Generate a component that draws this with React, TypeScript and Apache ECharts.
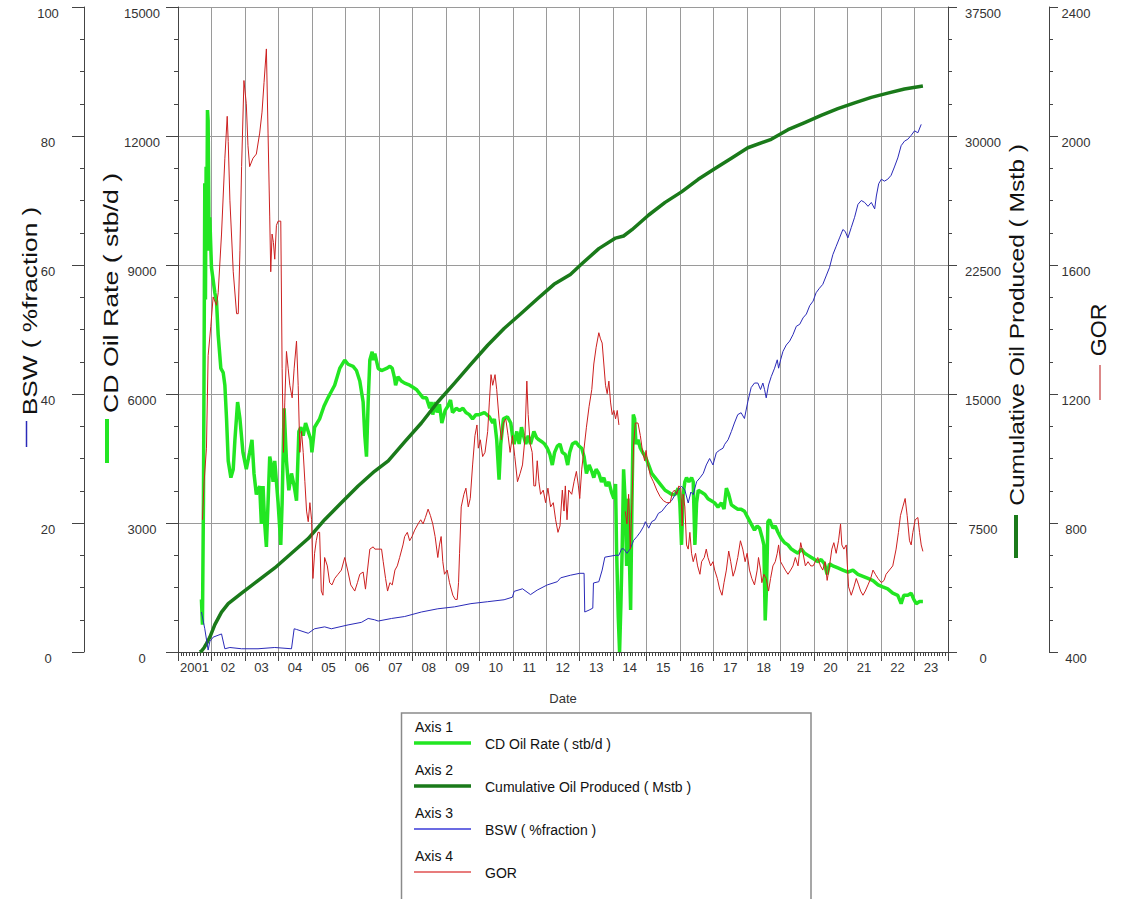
import React, { useEffect, useRef } from 'react';
import * as echarts from 'echarts';

// x values are fractional calendar years
const yearLabelFirst = '2001';

const rateData: [number, number][] = [
  [2001.70, 1221], [2001.73, 635], [2001.76, 3468], [2001.78, 6888], [2001.80, 10900], [2001.82, 8200], [2001.84, 11284], [2001.86, 9800], [2001.88, 12603], [2001.90, 12359], [2001.93, 9330], [2001.95, 10112],
  [2002.00, 8940], [2002.10, 8353], [2002.15, 8158], [2002.20, 7376], [2002.28, 6595], [2002.35, 6497], [2002.40, 6204], [2002.45, 5422], [2002.50, 4445], [2002.58, 4055], [2002.65, 4250], [2002.70, 4934], [2002.78, 5813], [2002.85, 5422], [2002.94, 4641],
  [2003.04, 4250], [2003.14, 4641], [2003.21, 4934], [2003.27, 4152], [2003.34, 3664], [2003.44, 3859], [2003.49, 2980], [2003.54, 3859], [2003.59, 2980], [2003.64, 2442], [2003.69, 3468], [2003.74, 4543], [2003.79, 4348], [2003.84, 3957], [2003.89, 4445], [2003.99, 3468],
  [2004.07, 2491], [2004.11, 3468], [2004.17, 5667], [2004.24, 4445], [2004.31, 3761], [2004.39, 4152], [2004.47, 3859], [2004.54, 3517], [2004.61, 5129], [2004.67, 5227], [2004.74, 5032], [2004.81, 5325], [2004.89, 5129], [2004.97, 4934],
  [2005.00, 4641], [2005.08, 5227], [2005.23, 5422], [2005.36, 5715], [2005.48, 5911], [2005.58, 6057], [2005.68, 6204], [2005.83, 6595], [2005.98, 6790],
  [2006.08, 6692], [2006.23, 6644], [2006.33, 6546], [2006.43, 6302], [2006.53, 5813], [2006.58, 5032], [2006.63, 4543], [2006.68, 5813], [2006.73, 6790], [2006.80, 6985], [2006.83, 6790], [2006.88, 6937], [2006.98, 6595],
  [2007.08, 6546], [2007.23, 6595], [2007.33, 6644], [2007.40, 6595], [2007.46, 6399], [2007.50, 6204], [2007.57, 6399], [2007.67, 6302], [2007.77, 6253], [2007.92, 6204],
  [2008.02, 6155], [2008.12, 6106], [2008.22, 6009], [2008.32, 5911], [2008.42, 5911], [2008.52, 5667], [2008.56, 5813], [2008.61, 5520], [2008.68, 5813], [2008.74, 5569], [2008.81, 5764], [2008.88, 5325], [2008.98, 5618],
  [2009.06, 5715], [2009.14, 5862], [2009.20, 5569], [2009.31, 5667], [2009.41, 5618], [2009.51, 5667], [2009.60, 5569], [2009.70, 5520], [2009.80, 5422], [2009.90, 5520],
  [2010.00, 5520], [2010.15, 5569], [2010.30, 5471], [2010.40, 5325], [2010.45, 5422], [2010.52, 4934], [2010.59, 4006], [2010.64, 4836], [2010.72, 5422], [2010.84, 5471], [2010.94, 5325], [2010.99, 5032],
  [2011.04, 4836], [2011.12, 5129], [2011.19, 4836], [2011.26, 5227], [2011.32, 5032], [2011.39, 4836], [2011.46, 5032], [2011.53, 4836], [2011.63, 5129], [2011.71, 4983], [2011.78, 4934], [2011.88, 4885], [2011.95, 4836],
  [2012.03, 4738], [2012.11, 4592], [2012.18, 4348], [2012.25, 4641], [2012.33, 4787], [2012.41, 4836], [2012.48, 4641], [2012.57, 4592], [2012.64, 4348], [2012.70, 4641], [2012.78, 4836], [2012.88, 4885], [2012.98, 4787],
  [2013.06, 4738], [2013.13, 4543], [2013.20, 4152], [2013.28, 4348], [2013.36, 4201], [2013.42, 4055], [2013.49, 4250], [2013.57, 4152], [2013.65, 3957], [2013.72, 4055], [2013.79, 3859], [2013.87, 3957], [2013.95, 3713],
  [2014.02, 3566], [2014.07, 3908], [2014.10, 2394], [2014.15, 830], [2014.19, 0], [2014.23, 1124], [2014.27, 2491], [2014.31, 4250], [2014.36, 3468], [2014.40, 2003], [2014.44, 3566], [2014.48, 2296], [2014.52, 977], [2014.56, 3468], [2014.60, 5520], [2014.64, 5422], [2014.68, 4836], [2014.74, 4934], [2014.81, 4738], [2014.88, 4641], [2014.96, 4543],
  [2015.06, 4348], [2015.15, 4152], [2015.25, 4055], [2015.35, 3957], [2015.45, 3859], [2015.55, 3761], [2015.65, 3713], [2015.75, 3664], [2015.85, 3664], [2015.94, 3810], [2015.99, 3468],
  [2016.04, 2491], [2016.09, 3664], [2016.14, 3957], [2016.19, 4055], [2016.26, 3957], [2016.34, 4055], [2016.39, 3957], [2016.44, 2491], [2016.49, 3468], [2016.54, 3761], [2016.64, 3713], [2016.74, 3664], [2016.83, 3566], [2016.93, 3517],
  [2017.03, 3468], [2017.13, 3371], [2017.23, 3468], [2017.31, 3322], [2017.38, 3810], [2017.45, 3664], [2017.53, 3420], [2017.62, 3371], [2017.72, 3322], [2017.82, 3322], [2017.92, 3273],
  [2018.02, 3126], [2018.12, 2980], [2018.22, 2833], [2018.30, 2931], [2018.37, 2882], [2018.44, 2687], [2018.50, 2491], [2018.54, 733], [2018.58, 1514], [2018.62, 3029], [2018.67, 3078], [2018.72, 2980], [2018.77, 2882], [2018.84, 2931], [2018.92, 2784],
  [2019.02, 2638], [2019.12, 2540], [2019.22, 2491], [2019.32, 2394], [2019.42, 2345], [2019.52, 2296], [2019.62, 2394], [2019.72, 2296], [2019.82, 2247], [2019.92, 2198],
  [2020.02, 2149], [2020.11, 2101], [2020.21, 2149], [2020.31, 2052], [2020.39, 1807], [2020.46, 2052], [2020.56, 2003], [2020.71, 1954], [2020.86, 1905],
  [2021.01, 1856], [2021.16, 1905], [2021.31, 1807], [2021.46, 1759], [2021.61, 1710], [2021.76, 1661], [2021.91, 1563],
  [2022.05, 1514], [2022.20, 1466], [2022.35, 1368], [2022.50, 1319], [2022.60, 1124], [2022.68, 1319], [2022.80, 1319], [2022.90, 1368], [2022.98, 1221],
  [2023.05, 1124], [2023.15, 1172], [2023.25, 1172],
];

const cumData: [number, number][] = [
  [2001.65, 0], [2001.70, 49], [2001.78, 250], [2001.85, 489], [2001.95, 855], [2002.10, 1588], [2002.30, 2321], [2002.50, 2809], [2002.90, 3420],
  [2003.39, 4153], [2003.89, 4886], [2004.39, 5741], [2004.89, 6596], [2005.38, 7695], [2005.88, 8673], [2006.38, 9650], [2006.87, 10505],
  [2007.28, 11116], [2007.77, 12215], [2008.27, 13314], [2008.76, 14536], [2009.26, 15635], [2009.75, 16735], [2010.25, 17834], [2010.74, 18811],
  [2011.24, 19666], [2011.73, 20521], [2012.23, 21376], [2012.72, 21950], [2013.08, 22598], [2013.57, 23453], [2014.07, 24064], [2014.31, 24186],
  [2014.56, 24552], [2015.06, 25407], [2015.55, 26140], [2016.04, 26751], [2016.54, 27484], [2017.03, 28095], [2017.53, 28705], [2018.02, 29316],
  [2018.72, 29805], [2019.22, 30366], [2019.72, 30782], [2020.21, 31197], [2020.71, 31588], [2021.21, 31930], [2021.71, 32248], [2022.20, 32492],
  [2022.70, 32736], [2023.25, 32907],
];

const bswData: [number, number][] = [
  [2001.70, 6.2], [2001.80, 3.6], [2001.90, 0.3], [2001.95, 1.6], [2002.05, 2.3], [2002.30, 2.8], [2002.40, 0.5], [2002.55, 0.7], [2002.90, 0.5],
  [2003.39, 0.5], [2003.89, 0.7], [2004.39, 0.5], [2004.47, 3.6], [2004.54, 3.5], [2004.89, 2.9], [2005.08, 3.6], [2005.38, 3.9], [2005.58, 3.6],
  [2006.08, 4.2], [2006.48, 4.6], [2006.68, 5.2], [2006.87, 5.0], [2006.98, 4.8], [2007.38, 5.2], [2007.77, 5.5], [2008.27, 6.2], [2008.76, 6.7],
  [2009.26, 7.0], [2009.75, 7.5], [2010.25, 7.8], [2010.74, 8.1], [2010.99, 8.5], [2011.04, 9.4], [2011.29, 9.8], [2011.53, 8.9], [2011.73, 9.6],
  [2012.03, 10.4], [2012.33, 10.9], [2012.43, 11.5], [2012.72, 11.9], [2013.00, 12.2], [2013.13, 12.2], [2013.15, 6.2], [2013.28, 6.5], [2013.39, 6.8],
  [2013.41, 10.7], [2013.57, 10.9], [2013.67, 12.7], [2013.75, 14.7], [2014.07, 15.0], [2014.17, 15.0], [2014.25, 16.0], [2014.31, 16.0], [2014.41, 15.3],
  [2014.51, 16.0], [2014.61, 17.3], [2014.71, 17.9], [2014.81, 18.6], [2014.91, 19.5], [2014.96, 20.2], [2015.06, 19.2], [2015.15, 20.2], [2015.25, 20.5],
  [2015.35, 21.5], [2015.45, 21.8], [2015.60, 22.8], [2015.75, 23.5], [2015.85, 24.4], [2015.94, 25.1], [2016.04, 25.7], [2016.14, 25.1], [2016.24, 23.1],
  [2016.32, 24.8], [2016.39, 24.4], [2016.49, 26.4], [2016.59, 27.0], [2016.69, 27.7], [2016.78, 29.0], [2016.88, 30.0], [2016.98, 29.0], [2017.08, 30.9],
  [2017.18, 31.3], [2017.28, 31.6], [2017.33, 32.2], [2017.43, 32.9], [2017.53, 34.2], [2017.62, 35.5], [2017.72, 36.8], [2017.82, 37.1], [2017.92, 36.2],
  [2018.02, 38.8], [2018.12, 41.0], [2018.22, 41.7], [2018.32, 41.7], [2018.40, 40.7], [2018.47, 41.7], [2018.52, 40.7], [2018.57, 39.4], [2018.64, 41.4],
  [2018.72, 42.7], [2018.82, 44.0], [2018.90, 45.3], [2018.94, 44.0], [2019.00, 45.3], [2019.07, 46.6], [2019.17, 47.6], [2019.27, 48.2], [2019.37, 49.2],
  [2019.47, 50.5], [2019.57, 50.8], [2019.67, 51.8], [2019.77, 52.4], [2019.87, 53.7], [2019.97, 54.4], [2020.06, 55.7], [2020.16, 56.4], [2020.26, 57.0],
  [2020.36, 58.3], [2020.46, 59.6], [2020.56, 61.6], [2020.66, 62.9], [2020.76, 64.2], [2020.86, 65.5], [2020.93, 65.2], [2021.01, 64.2], [2021.11, 65.8],
  [2021.21, 67.4], [2021.31, 69.4], [2021.41, 70.0], [2021.51, 69.7], [2021.61, 69.1], [2021.71, 69.7], [2021.81, 68.7], [2021.86, 70.7], [2021.93, 72.6],
  [2022.01, 73.3], [2022.10, 73.0], [2022.20, 73.3], [2022.30, 73.9], [2022.40, 75.2], [2022.50, 76.6], [2022.60, 78.5], [2022.70, 79.2], [2022.80, 79.5],
  [2022.90, 80.1], [2023.00, 80.8], [2023.10, 80.5], [2023.20, 81.8],
];

const gorData: [number, number | null][] = [
  [2001.73, 810], [2001.78, 928], [2001.85, 1032], [2001.90, 1319], [2001.98, 1410], [2002.05, 1501], [2002.15, 1475], [2002.20, 1514], [2002.30, 1696],
  [2002.40, 1931], [2002.47, 2061], [2002.50, 1983], [2002.55, 1801], [2002.65, 1579], [2002.75, 1449], [2002.80, 1449], [2002.85, 1644], [2002.90, 1905],
  [2002.97, 2172], [2003.04, 2100], [2003.09, 1970], [2003.14, 1905], [2003.24, 1931], [2003.34, 1944], [2003.44, 2009], [2003.51, 2074], [2003.57, 2166],
  [2003.64, 2270], [2003.69, 2009], [2003.74, 1749], [2003.77, 1579], [2003.81, 1696], [2003.85, 1670], [2003.89, 1618], [2003.94, 1723], [2003.99, 1736],
  [2004.07, 1736], [2004.11, 1280], [2004.15, 1019], [2004.19, 1175], [2004.24, 1332], [2004.29, 1280], [2004.34, 1227], [2004.41, 1188], [2004.47, 1280],
  [2004.54, 1364], [2004.59, 1227], [2004.64, 1019], [2004.69, 1084], [2004.74, 1019], [2004.79, 928], [2004.84, 837], [2004.89, 804], [2004.94, 863],
  [2004.99, 810], [2005.03, 628], [2005.08, 706], [2005.13, 745], [2005.18, 771], [2005.23, 771], [2005.28, 589], [2005.33, 576], [2005.38, 693],
  [2005.46, 667], [2005.53, 615], [2005.60, 608], [2005.68, 628], [2005.78, 641], [2005.88, 654], [2005.98, 693], [2006.08, 648], [2006.16, 608],
  [2006.28, 589], [2006.36, 615], [2006.43, 641], [2006.53, 648], [2006.60, 595], [2006.66, 654], [2006.73, 719], [2006.83, 726], [2006.88, 719],
  [2007.08, 719], [2007.13, 680], [2007.20, 628], [2007.26, 589], [2007.33, 615], [2007.40, 608], [2007.48, 654], [2007.55, 667], [2007.62, 693],
  [2007.72, 732], [2007.77, 758], [2007.85, 771], [2007.92, 745], [2007.99, 758], [2008.07, 778], [2008.17, 797], [2008.25, 810], [2008.32, 797],
  [2008.39, 817], [2008.47, 843], [2008.54, 823], [2008.61, 797], [2008.68, 758], [2008.76, 693], [2008.81, 732], [2008.86, 758], [2008.91, 680],
  [2008.96, 641], [2009.04, 654], [2009.11, 615], [2009.21, 576], [2009.28, 563], [2009.34, 563], [2009.38, 615], [2009.41, 706], [2009.46, 850],
  [2009.54, 889], [2009.60, 908], [2009.67, 850], [2009.73, 876], [2009.80, 980], [2009.87, 1071], [2009.93, 1104], [2009.97, 1032], [2010.03, 1058],
  [2010.10, 1006], [2010.17, 1019], [2010.25, 1084], [2010.30, 1175], [2010.35, 1260], [2010.40, 1227], [2010.47, 1260], [2010.52, 1214], [2010.59, 1123],
  [2010.66, 1058], [2010.72, 1110], [2010.79, 1123], [2010.86, 1071], [2010.92, 1019], [2010.99, 1071], [2011.06, 1006], [2011.14, 928], [2011.22, 954],
  [2011.29, 980], [2011.36, 1058], [2011.42, 1240], [2011.46, 1136], [2011.52, 1045], [2011.58, 1019], [2011.63, 915], [2011.68, 915], [2011.73, 993],
  [2011.78, 928], [2011.83, 889], [2011.91, 902], [2011.98, 863], [2012.05, 908], [2012.13, 850], [2012.21, 863], [2012.28, 810], [2012.35, 771],
  [2012.41, 791], [2012.48, 902], [2012.53, 837], [2012.57, 915], [2012.62, 810], [2012.67, 902], [2012.76, 889], [2012.83, 928], [2012.90, 960],
  [2012.96, 915], [2013.00, 876], [2013.06, 967], [2013.13, 1032], [2013.20, 1097], [2013.28, 1162], [2013.36, 1214], [2013.42, 1293], [2013.49, 1345],
  [2013.57, 1390], [2013.62, 1371], [2013.67, 1358], [2013.72, 1293], [2013.77, 1227], [2013.82, 1201], [2013.87, 1240], [2013.92, 1175], [2013.97, 1136],
  [2014.02, 1149], [2014.07, 1123], [2014.12, 1149], [2014.17, 1104], [2014.26, null],
  [2014.36, 836], [2014.41, 797], [2014.46, 889], [2014.51, 719], [2014.56, 863], [2014.61, 1045], [2014.66, 1110], [2014.74, 1110], [2014.81, 1071],
  [2014.88, 1019], [2014.94, 993], [2014.98, 1025], [2015.04, 980], [2015.11, 947], [2015.20, 928], [2015.30, 902], [2015.40, 882], [2015.50, 869],
  [2015.60, 863], [2015.70, 863], [2015.77, 895], [2015.83, 902], [2015.90, 889], [2015.96, 915], [2016.02, 908], [2016.06, 791], [2016.09, 889],
  [2016.14, 850], [2016.19, 732], [2016.24, 719], [2016.29, 771], [2016.34, 706], [2016.39, 680], [2016.46, 706], [2016.52, 667], [2016.59, 641],
  [2016.64, 680], [2016.72, 693], [2016.78, 719], [2016.83, 693], [2016.91, 667], [2016.98, 680], [2017.03, 654], [2017.11, 628], [2017.18, 595],
  [2017.25, 576], [2017.31, 615], [2017.38, 654], [2017.45, 713], [2017.51, 680], [2017.58, 635], [2017.64, 654], [2017.72, 693], [2017.80, 745],
  [2017.87, 719], [2017.94, 680], [2018.00, 706], [2018.07, 654], [2018.14, 628], [2018.22, 608], [2018.30, 654], [2018.34, 693], [2018.40, 654],
  [2018.44, 615], [2018.50, 641], [2018.57, 628], [2018.64, 589], [2018.70, 628], [2018.77, 667], [2018.84, 680], [2018.90, 706], [2018.94, 732],
  [2019.00, 680], [2019.07, 667], [2019.14, 654], [2019.22, 641], [2019.30, 654], [2019.37, 667], [2019.44, 693], [2019.52, 667], [2019.60, 739],
  [2019.67, 706], [2019.74, 667], [2019.82, 680], [2019.90, 667], [2019.97, 667], [2020.04, 680], [2020.11, 693], [2020.19, 667], [2020.26, 654],
  [2020.33, 680], [2020.39, 622], [2020.46, 667], [2020.53, 719], [2020.59, 739], [2020.66, 706], [2020.73, 745], [2020.79, 797], [2020.83, 732],
  [2020.89, 719], [2020.96, 732], [2021.03, 602], [2021.11, 576], [2021.19, 602], [2021.26, 628], [2021.33, 608], [2021.39, 589], [2021.46, 576],
  [2021.53, 589], [2021.61, 608], [2021.69, 628], [2021.76, 654], [2021.83, 641], [2021.91, 628], [2022.01, 615], [2022.09, 622], [2022.15, 641],
  [2022.25, 654], [2022.35, 667], [2022.45, 719], [2022.52, 771], [2022.58, 823], [2022.65, 850], [2022.72, 876], [2022.78, 823], [2022.85, 745],
  [2022.90, 732], [2022.95, 771], [2023.02, 810], [2023.10, 817], [2023.15, 771], [2023.20, 732], [2023.25, 712],
];

const seriesNames = ['CD Oil Rate ( stb/d )', 'Cumulative Oil Produced ( Mstb )', 'BSW ( %fraction )', 'GOR'];
const axisLabels = ['Axis 1', 'Axis 2', 'Axis 3', 'Axis 4'];
const colors = ['#22e622', '#1a7a1a', '#2a2ab8', '#cc2020'];

export default function App() {
  const ref = useRef<HTMLDivElement>(null);
  useEffect(() => {
    const chart = echarts.init(ref.current as HTMLDivElement, null, { renderer: 'svg' });
    const font = 'Liberation Sans, Arial, sans-serif';
    const axisColor = '#444';
    const labelColor = '#333';
    const yCommon = (tickLen: number, margin: number) => ({
      type: 'value',
      axisLine: { show: true, onZero: false, lineStyle: { color: axisColor, width: 1 } },
      axisTick: { show: true, length: tickLen, lineStyle: { color: axisColor } },
      minorTick: { show: true, splitNumber: 4, length: 4, lineStyle: { color: axisColor } },
      axisLabel: {
        align: 'center', verticalAlign: 'top', margin, fontSize: 13, color: labelColor, fontFamily: font,
        formatter: (v: number) => String(v),
      },
      splitLine: { show: false },
    });
    const nameText = (text: string, x: number, y: number, fontSize: number, sx: number) => ({
      type: 'text', x, y, rotation: Math.PI / 2, scaleX: sx, silent: true,
      style: { text, fontSize, fontFamily: font, fill: '#111', align: 'center', verticalAlign: 'middle' },
    });
    const mark = (x1: number, y1: number, x2: number, y2: number, stroke: string, lineWidth: number) => ({
      type: 'line', silent: true, shape: { x1, y1, x2, y2 }, style: { stroke, lineWidth },
    });
    const legendText = (text: string, x: number, y: number) => ({
      type: 'text', x, y, silent: true,
      style: { text, fontSize: 14, fontFamily: font, fill: '#111', align: 'left', verticalAlign: 'middle' },
    });
    const legendRows = [744, 787, 830, 873];
    const legendWidths = [3.5, 3.5, 1.5, 1.5];
    const graphics: any[] = [
      nameText(seriesNames[2], 29, 311, 21, 1.25),
      mark(26.5, 421, 26.5, 447, colors[2], 1.5),
      nameText(seriesNames[0], 111, 293, 21, 1.27),
      mark(107, 419, 107, 463, colors[0], 4),
      nameText(seriesNames[1], 1017, 325, 21, 1.17),
      mark(1016, 515, 1016, 558, colors[1], 4),
      nameText(seriesNames[3], 1099, 330, 22, 1.05),
      mark(1100, 365, 1100, 400, '#d06060', 1.5),
      { type: 'rect', silent: true, shape: { x: 401.5, y: 713, width: 409.5, height: 200 }, style: { fill: '#fff', stroke: '#8a8a8a', lineWidth: 1.5 } },
    ];
    legendRows.forEach((ly, i) => {
      graphics.push(legendText(axisLabels[i], 415, ly - 17));
      graphics.push(mark(414, ly - 1, 471, ly - 1, i === 2 ? '#3a3ad8' : i === 3 ? '#e05050' : colors[i], legendWidths[i]));
      graphics.push(legendText(seriesNames[i], 485, ly));
    });

    chart.setOption({
      animation: false,
      backgroundColor: '#fff',
      grid: { left: 178, top: 7, width: 770, height: 645, containLabel: false },
      xAxis: {
        type: 'value', min: 2001, max: 2024, interval: 1,
        name: 'Date', nameLocation: 'middle', nameGap: 40,
        nameTextStyle: { fontSize: 13, color: labelColor, fontFamily: font },
        axisLine: { show: true, onZero: false, lineStyle: { color: axisColor, width: 1 } },
        axisTick: { show: true, length: 9, lineStyle: { color: axisColor } },
        minorTick: { show: true, splitNumber: 12, length: 4, lineStyle: { color: axisColor } },
        axisLabel: {
          fontSize: 13, color: labelColor, fontFamily: font, margin: 9, padding: [0, 0, 0, 33],
          formatter: (v: number) => (v === 2001 ? yearLabelFirst : v >= 2024 ? '' : String(v % 100).padStart(2, '0')),
        },
        splitLine: { show: true, lineStyle: { color: '#9a9a9a', width: 1 } },
      },
      yAxis: [
        { ...yCommon(12, 36), position: 'left', offset: 0, min: 0, max: 15000, interval: 3000,
          splitLine: { show: true, lineStyle: { color: '#9a9a9a', width: 1 } } },
        { ...yCommon(9, 35), position: 'right', offset: 0, min: 0, max: 37500, interval: 7500 },
        { ...yCommon(12, 36), position: 'left', offset: 94, min: 0, max: 100, interval: 20 },
        { ...yCommon(9, 27), position: 'right', offset: 101, min: 400, max: 2400, interval: 400 },
      ],
      graphic: graphics,
      series: [
        { type: 'line', name: seriesNames[0], yAxisIndex: 0, data: rateData, showSymbol: false, silent: true,
          lineStyle: { color: colors[0], width: 3.5 }, itemStyle: { color: colors[0] }, z: 2 },
        { type: 'line', name: seriesNames[1], yAxisIndex: 1, data: cumData, showSymbol: false, silent: true,
          lineStyle: { color: colors[1], width: 3.5, join: 'round' }, itemStyle: { color: colors[1] }, z: 3 },
        { type: 'line', name: seriesNames[2], yAxisIndex: 2, data: bswData, showSymbol: false, silent: true,
          lineStyle: { color: colors[2], width: 1 }, itemStyle: { color: colors[2] }, z: 4 },
        { type: 'line', name: seriesNames[3], yAxisIndex: 3, data: gorData, showSymbol: false, silent: true, connectNulls: false,
          lineStyle: { color: colors[3], width: 1 }, itemStyle: { color: colors[3] }, z: 5 },
      ],
    });
    return () => chart.dispose();
  }, []);
  return <div ref={ref} style={{ position: 'fixed', left: 0, top: 0, width: 1127, height: 899, background: '#fff' }} />;
}
